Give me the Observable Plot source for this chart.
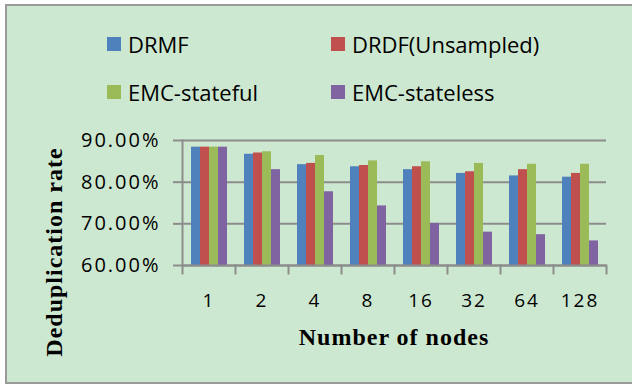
<!DOCTYPE html>
<html>
<head>
<meta charset="utf-8">
<script src="https://cdn.jsdelivr.net/npm/d3@7"></script>
<script src="https://cdn.jsdelivr.net/npm/@observablehq/plot@0.6"></script>
<style>
  body { margin: 0; }
  #chart { position: relative; width: 632px; height: 385px; overflow: hidden; font-family: "Open Sans", sans-serif; }
  #bg { position: absolute; left: 5px; top: 4px; width: 700px; height: 380px; box-sizing: border-box;
        border: 2px solid #9a9a9a; border-right: none; background: #cde8d0; }
  #legend { position: absolute; left: 0; top: 0; width: 632px; height: 120px; }
  .item { position: absolute; display: flex; align-items: center; font-size: 22px; color: #000; white-space: nowrap; }
  .sw { width: 14px; height: 14px; margin-right: 7px; }
  #plot { position: absolute; left: 0; top: 120px; }
  .title { position: absolute; font-family: "Liberation Serif", "Times New Roman", serif; font-weight: bold; font-size: 24px; letter-spacing: 1px; color: #000; white-space: nowrap; }
</style>
</head>
<body>
<div id="chart">
  <div id="bg"></div>
  <div id="legend"></div>
  <div id="plot"></div>
  <div class="title" id="ytitle"></div>
  <div class="title" id="xtitle"></div>
</div>
<script>
const nodes = ["1", "2", "4", "8", "16", "32", "64", "128"];
const series = ["DRMF", "DRDF(Unsampled)", "EMC-stateful", "EMC-stateless"];
const drmf = [88.4, 86.7, 84.2, 83.7, 83.0, 82.1, 81.5, 81.2];
const drdf = [88.4, 87.0, 84.5, 84.0, 83.7, 82.5, 83.0, 82.1];
const emcStateful = [88.4, 87.3, 86.4, 85.1, 84.9, 84.5, 84.3, 84.3];
const emcStateless = [88.4, 83.0, 77.7, 74.3, 70.1, 68.0, 67.4, 65.9];
const yTicks = [60, 70, 80, 90];
const colors = ["#4f81bd", "#c0504d", "#9bbb59", "#8064a2"];
const yTitle = "Deduplication rate";
const xTitle = "Number of nodes";

const seriesValues = [drmf, drdf, emcStateful, emcStateless];
const data = [];
nodes.forEach((n, i) => series.forEach((s, j) => data.push({nodes: n, series: s, value: seriesValues[j][i]})));

// legend (row-wise, two columns)
const legend = document.getElementById("legend");
const legendPos = [[107, 44], [331, 44], [107, 92], [331, 92]];
series.forEach((s, j) => {
  const it = document.createElement("div");
  it.className = "item";
  it.style.left = legendPos[j][0] + "px";
  it.style.top = (legendPos[j][1] - 15) + "px";
  it.style.height = "30px";
  const sw = document.createElement("div");
  sw.className = "sw";
  sw.style.background = colors[j];
  const tx = document.createElement("span");
  tx.textContent = s;
  it.appendChild(sw); it.appendChild(tx);
  legend.appendChild(it);
});

const W = 632, H = 265, ML = 179, MR = 24, MT = 20, MB = 120;
const plotH = H - MT - MB;
const axisGray = "#8c8c8c";

const chart = Plot.plot({
  width: W,
  height: H,
  marginLeft: ML,
  marginRight: MR,
  marginTop: MT,
  marginBottom: MB,
  style: {background: "transparent", fontFamily: "Open Sans", fontSize: "19px", letterSpacing: "2px", color: "#000", overflow: "visible"},
  fx: {domain: nodes, padding: 0, label: null, axis: "bottom", tickSize: 0, tickPadding: 28},
  x: {domain: series, paddingInner: 0, paddingOuter: 0.78, axis: null},
  y: {domain: [60, 90], label: null},
  color: {domain: series, range: colors},
  marks: [
    Plot.gridY(yTicks, {stroke: axisGray, strokeOpacity: 1, strokeWidth: 2}),
    Plot.barY(data, {fx: "nodes", x: "series", y1: 60, y2: "value", fill: "series"}),
    Plot.ruleY([60], {stroke: axisGray, strokeWidth: 2}),
    Plot.frame({anchor: "left", facetAnchor: "left", stroke: axisGray, strokeWidth: 2}),
    Plot.frame({anchor: "left", insetTop: plotH, insetBottom: -8, stroke: axisGray, strokeWidth: 2}),
    Plot.frame({anchor: "right", facetAnchor: "right", insetTop: plotH, insetBottom: -8, stroke: axisGray, strokeWidth: 2}),
    Plot.axisY(yTicks, {tickSize: 9, tickPadding: 13, fontSize: 20, tickFormat: d => d.toFixed(2) + "%", stroke: axisGray, strokeWidth: 2, fill: "#000", label: null})
  ]
});
document.getElementById("plot").appendChild(chart);

const yt = document.getElementById("ytitle");
yt.textContent = yTitle;
yt.style.left = "54px"; yt.style.top = "252px";
yt.style.transform = "translate(-50%, -50%) rotate(-90deg)";
const xt = document.getElementById("xtitle");
xt.textContent = xTitle;
xt.style.left = "394px"; xt.style.top = "337px";
xt.style.transform = "translate(-50%, -50%)";
</script>
</body>
</html>
